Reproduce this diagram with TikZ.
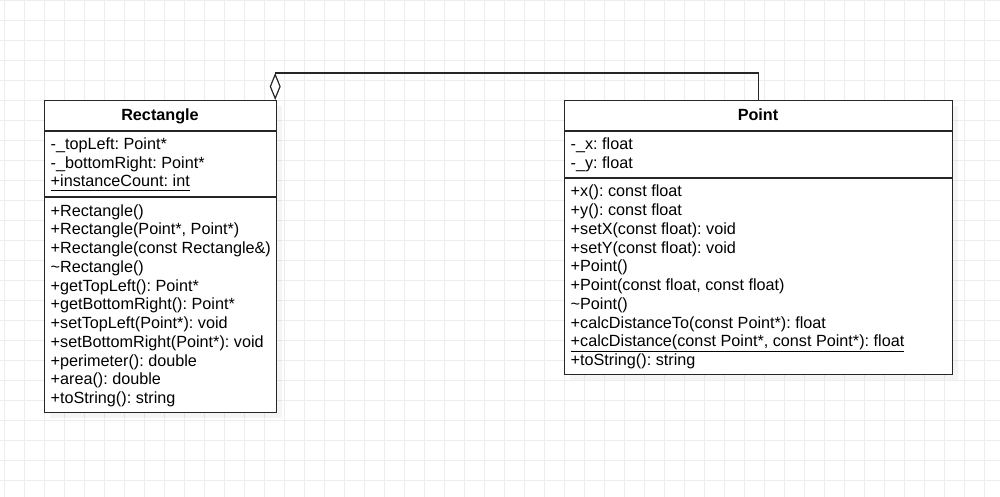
\documentclass[tikz,border=0pt]{standalone}
\usepackage{fontspec}
\setmainfont{Liberation Sans}
\usetikzlibrary{arrows.meta,shadows}
\frenchspacing

\newcommand{\stat}[1]{\underline{#1\rule[-2pt]{0pt}{1pt}}}

\begin{document}
\begin{tikzpicture}[x=1pt,y=-1pt,font=\fontsize{16.2}{18.75}\selectfont,
   gridline/.style={draw=black!7,line width=0.7pt},
   classbox/.style={draw=black!85,line width=1.2pt,fill=white,anchor=north west,inner sep=0pt,
     drop shadow={shadow xshift=5pt,shadow yshift=-5pt,opacity=0.08}},
   classname/.style={anchor=base,inner sep=0pt},
   members/.style={align=left,anchor=base west,inner sep=0pt},
   divider/.style={draw=black!85,line width=1.2pt},
   aggr/.style={draw=black!85,line width=1.2pt,
     -{Diamond[fill=white,length=27pt,width=11pt,line width=1.2pt]}}]
\useasboundingbox (0,0) rectangle (1000,497);
\begin{scope}[xshift=4pt]
\draw[gridline] (-20,0) grid[step=20pt] (1000,500);
\end{scope}

% classes (members are placed by the baseline of their last line)
\node[classbox,minimum width=232pt,minimum height=312pt] (rect) at (44,100) {};
\node[classbox,minimum width=388pt,minimum height=274pt] (pt) at (564,100) {};
\draw[divider] ([yshift=-31pt]rect.north west) -- ([yshift=-31pt]rect.north east);
\draw[divider] ([yshift=-97pt]rect.north west) -- ([yshift=-97pt]rect.north east);
\draw[divider] ([yshift=-31pt]pt.north west) -- ([yshift=-31pt]pt.north east);
\draw[divider] ([yshift=-78pt]pt.north west) -- ([yshift=-78pt]pt.north east);

\node[classname] (rectname) at (160,121) {\bfseries Rectangle};
\node[members] (rectattr) at (50.5,186.8) {-\_topLeft: Point*\\-\_bottomRight: Point*\\\stat{+instanceCount: int}};
\node[members] (rectops) at (50.5,403.5) {+Rectangle()\\+Rectangle(Point*, Point*)\\+Rectangle(const Rectangle\&)\\\textasciitilde Rectangle()\\+getTopLeft(): Point*\\+getBottomRight(): Point*\\+setTopLeft(Point*): void\\+setBottomRight(Point*): void\\+perimeter(): double\\+area(): double\\+toString(): string};

\node[classname] (ptname) at (758,121) {\bfseries Point};
\node[members] (ptattr) at (570.5,168) {-\_x: float\\-\_y: float};
\node[members] (ptops) at (570.5,365.5) {+x(): const float\\+y(): const float\\+setX(const float): void\\+setY(const float): void\\+Point()\\+Point(const float, const float)\\\textasciitilde Point()\\+calcDistanceTo(const Point*): float\\\stat{+calcDistance(const Point*, const Point*): float}\\+toString(): string};

% aggregation
\draw[aggr] (pt.north) -- ++(0,-27) -| ([xshift=-2pt]rect.north east);
\end{tikzpicture}
\end{document}
